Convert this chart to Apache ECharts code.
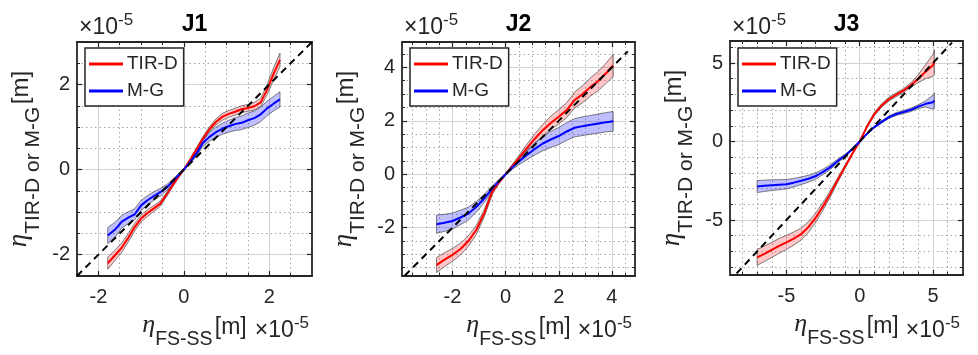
<!DOCTYPE html>
<html><head><meta charset="utf-8">
<script src="https://cdn.jsdelivr.net/npm/echarts@6/dist/echarts.min.js"></script>
<style>html,body{margin:0;padding:0;background:#fff}#c{width:978px;height:355px}</style>
</head><body><div id="c"></div>
<script>
// ---------------- data ----------------
const panelTitles = ['J1', 'J2', 'J3'];
const seriesNames = ['TIR-D', 'M-G'];

// J1
const x1 = [-1.78,-1.6,-1.45,-1.3,-1.15,-1.0,-0.85,-0.7,-0.55,-0.4,-0.25,-0.1,0,0.15,0.3,0.45,0.6,0.75,0.9,1.05,1.2,1.35,1.5,1.65,1.8,1.95,2.1,2.25];
const tir1 = [-2.2,-2.0,-1.83,-1.6,-1.35,-1.15,-1.02,-0.91,-0.8,-0.58,-0.35,-0.13,0,0.23,0.48,0.73,0.95,1.12,1.24,1.31,1.36,1.42,1.45,1.49,1.58,1.88,2.25,2.58];
const tir1Spread = [0.14,0.12,0.11,0.1,0.09,0.08,0.08,0.07,0.06,0.05,0.04,0.03,0.02,0.03,0.04,0.05,0.06,0.07,0.08,0.08,0.08,0.08,0.08,0.09,0.1,0.12,0.14,0.16];
const mg1 = [-1.55,-1.4,-1.22,-1.13,-1.05,-0.84,-0.72,-0.62,-0.53,-0.42,-0.27,-0.1,0,0.18,0.38,0.63,0.77,0.88,0.96,1.02,1.07,1.1,1.16,1.21,1.3,1.44,1.55,1.65];
const mg1Spread = [0.19,0.17,0.15,0.14,0.13,0.12,0.11,0.1,0.09,0.07,0.05,0.03,0.02,0.04,0.06,0.08,0.1,0.12,0.13,0.14,0.15,0.16,0.17,0.17,0.17,0.17,0.17,0.18];
const diag1 = [-2.5, 3];
const xRange1 = [-2.5, 3], yRange1 = [-2.5, 3];
const xMajor1 = [-2, 0, 2], yMajor1 = [-2, 0, 2];
const xMinor1 = [-1.5,-1,-0.5,0.5,1,1.5,2.5], yMinor1 = [-1.5,-1,-0.5,0.5,1,1.5,2.5];

// J2
const x2 = [-2.6,-2.3,-2.0,-1.7,-1.4,-1.1,-0.8,-0.5,-0.25,0,0.25,0.5,0.8,1.1,1.4,1.7,2.0,2.3,2.6,2.9,3.2,3.5,3.8,4.05];
const tir2 = [-3.4,-3.2,-3.02,-2.8,-2.5,-2.08,-1.45,-0.65,-0.3,0,0.3,0.6,0.98,1.33,1.65,1.92,2.15,2.4,2.78,3.0,3.27,3.5,3.8,4.07];
const tir2Spread = [0.28,0.26,0.24,0.22,0.2,0.17,0.14,0.1,0.06,0.03,0.06,0.1,0.14,0.18,0.22,0.25,0.27,0.28,0.3,0.32,0.34,0.36,0.38,0.42];
const mg2 = [-1.87,-1.82,-1.75,-1.62,-1.47,-1.22,-0.9,-0.53,-0.26,0,0.25,0.48,0.72,0.95,1.15,1.3,1.43,1.6,1.74,1.8,1.85,1.9,1.95,1.98];
const mg2Spread = [0.34,0.32,0.3,0.27,0.24,0.2,0.15,0.1,0.06,0.03,0.07,0.12,0.18,0.23,0.27,0.3,0.32,0.33,0.34,0.35,0.35,0.36,0.36,0.37];
const diag2 = [-3.8, 4.6];
const xRange2 = [-3.9, 4.87], yRange2 = [-3.81, 4.95];
const xMajor2 = [-2, 0, 2, 4], yMajor2 = [-2, 0, 2, 4];
const xMinor2 = [-3.5,-3,-2.5,-1.5,-1,-0.5,0.5,1,1.5,2.5,3,3.5,4.5], yMinor2 = [-3.5,-3,-2.5,-1.5,-1,-0.5,0.5,1,1.5,2.5,3,3.5,4.5];

// J3
const x3 = [-7.0,-6.5,-6,-5.5,-5,-4.5,-4,-3.5,-3,-2.5,-2,-1.5,-1,-0.5,0,0.5,1,1.5,2,2.5,3,3.5,4,4.5,5,5.1];
const tir3 = [-7.38,-7.15,-6.9,-6.65,-6.42,-6.18,-5.9,-5.45,-4.85,-4.12,-3.32,-2.45,-1.6,-0.78,0,0.95,1.75,2.3,2.7,2.98,3.25,3.6,4.0,4.45,4.85,5.05];
const tir3Spread = [0.5,0.49,0.48,0.47,0.45,0.42,0.38,0.34,0.3,0.25,0.2,0.15,0.1,0.06,0.02,0.07,0.1,0.11,0.12,0.12,0.12,0.15,0.25,0.45,0.7,0.8];
const mg3 = [-2.87,-2.82,-2.78,-2.75,-2.72,-2.62,-2.5,-2.37,-2.2,-1.93,-1.63,-1.24,-0.9,-0.48,0,0.5,0.92,1.25,1.55,1.75,1.88,2.02,2.22,2.4,2.5,2.6];
const mg3Spread = [0.38,0.36,0.34,0.32,0.3,0.27,0.24,0.22,0.2,0.17,0.15,0.12,0.08,0.05,0.02,0.04,0.06,0.07,0.08,0.09,0.1,0.11,0.12,0.2,0.45,0.5];
const diag3 = [-8.4, 6.3];
const xRange3 = [-8.85, 7.05], yRange3 = [-8.5, 6.4];
const xMajor3 = [-5, 0, 5], yMajor3 = [-5, 0, 5];
const xMinor3 = [-8,-7,-6,-4,-3,-2,-1,1,2,3,4,6], yMinor3 = [-8,-7,-6,-4,-3,-2,-1,1,2,3,4,6];

const exponentText = '-5';

// ---------------- layout ----------------
const panels = [
  {x:x1, tir:tir1, tirS:tir1Spread, mg:mg1, mgS:mg1Spread, diag:diag1, xr:xRange1, yr:yRange1, xM:xMajor1, yM:yMajor1, xm:xMinor1, ym:yMinor1, grid:{left:77, top:42, width:235, height:234}},
  {x:x2, tir:tir2, tirS:tir2Spread, mg:mg2, mgS:mg2Spread, diag:diag2, xr:xRange2, yr:yRange2, xM:xMajor2, yM:yMajor2, xm:xMinor2, ym:yMinor2, grid:{left:402, top:42, width:233, height:234}},
  {x:x3, tir:tir3, tirS:tir3Spread, mg:mg3, mgS:mg3Spread, diag:diag3, xr:xRange3, yr:yRange3, xM:xMajor3, yM:yMajor3, xm:xMinor3, ym:yMinor3, grid:{left:730, top:41, width:233, height:234}}
];

const TXT = '#262626';
const FONT = 'Liberation Sans, Arial, sans-serif';
const SERIF = 'Liberation Serif, DejaVu Serif, serif';
const RED = '#ff0000', BLUE = '#0000ff';

const richX = {
  eta: {fontFamily: SERIF, fontStyle: 'italic', fontSize: 26, color: TXT},
  sub: {fontFamily: FONT, fontSize: 19.5, color: TXT, padding: [30, 0, 0, 0]},
  m: {fontFamily: FONT, fontSize: 23, color: TXT, padding: [6, 0, 0, 0]},
  sp: {fontSize: 8}
};
const richY = {
  eta: {fontFamily: SERIF, fontStyle: 'italic', fontSize: 27, color: TXT},
  sub: {fontFamily: FONT, fontSize: 21, color: TXT, padding: [30, 0, 0, 0]},
  m: {fontFamily: FONT, fontSize: 24, color: TXT, padding: [6, 0, 0, 0]},
  sp: {fontSize: 9}
};

const grids = [], xAxes = [], yAxes = [], series = [], legends = [], graphics = [];

function axisCommon(gi, range) {
  return {type: 'value', gridIndex: gi, min: range[0], max: range[1], scale: true};
}

panels.forEach((p, i) => {
  grids.push(Object.assign({containLabel: false}, p.grid));
  const axLine = {show: true, onZero: false, lineStyle: {color: TXT, width: 1.8}};
  const noLine = {show: false, onZero: false};
  xAxes.push(Object.assign(axisCommon(i, p.xr), {
    position: 'bottom', axisLine: axLine,
    axisTick: {show: true, inside: true, length: 5, customValues: p.xM, lineStyle: {color: TXT, width: 1.2}},
    axisLabel: {customValues: p.xM, fontSize: 20, fontFamily: FONT, color: TXT, margin: 11},
    splitLine: {show: true, lineStyle: {color: '#d2d2d2', width: 1, type: 'solid'}},
    name: '{eta|η}{sub|FS-SS}{sp| }{m|[m]}', nameLocation: 'middle', nameGap: 22,
    nameTextStyle: {rich: richX}
  }));
  xAxes.push(Object.assign(axisCommon(i, p.xr), {
    position: 'bottom', axisLine: noLine,
    axisTick: {show: true, inside: true, length: 3, customValues: p.xm, lineStyle: {color: TXT, width: 1}},
    axisLabel: {show: false},
    splitLine: {show: true, lineStyle: {color: '#a6a6a6', width: 1, type: [1.5, 3]}}
  }));
  xAxes.push(Object.assign(axisCommon(i, p.xr), {
    position: 'top', axisLine: axLine,
    axisTick: {show: true, inside: true, length: 5, customValues: p.xM, lineStyle: {color: TXT, width: 1.2}},
    axisLabel: {show: false}, splitLine: {show: false}
  }));
  xAxes.push(Object.assign(axisCommon(i, p.xr), {
    position: 'top', axisLine: noLine,
    axisTick: {show: true, inside: true, length: 3, customValues: p.xm, lineStyle: {color: TXT, width: 1}},
    axisLabel: {show: false}, splitLine: {show: false}
  }));
  yAxes.push(Object.assign(axisCommon(i, p.yr), {
    position: 'left', axisLine: axLine,
    axisTick: {show: true, inside: true, length: 5, customValues: p.yM, lineStyle: {color: TXT, width: 1.2}},
    axisLabel: {customValues: p.yM, fontSize: 20, fontFamily: FONT, color: TXT, margin: 7},
    splitLine: {show: true, lineStyle: {color: '#d2d2d2', width: 1, type: 'solid'}},
    name: '{eta|η}{sub|TIR-D or M-G}{sp| }{m|[m]}', nameLocation: 'middle', nameGap: 33, nameRotate: 90,
    nameTextStyle: {rich: richY}
  }));
  yAxes.push(Object.assign(axisCommon(i, p.yr), {
    position: 'left', axisLine: noLine,
    axisTick: {show: true, inside: true, length: 3, customValues: p.ym, lineStyle: {color: TXT, width: 1}},
    axisLabel: {show: false},
    splitLine: {show: true, lineStyle: {color: '#a6a6a6', width: 1, type: [1.5, 3]}}
  }));
  yAxes.push(Object.assign(axisCommon(i, p.yr), {
    position: 'right', axisLine: axLine,
    axisTick: {show: true, inside: true, length: 5, customValues: p.yM, lineStyle: {color: TXT, width: 1.2}},
    axisLabel: {show: false}, splitLine: {show: false}
  }));
  yAxes.push(Object.assign(axisCommon(i, p.yr), {
    position: 'right', axisLine: noLine,
    axisTick: {show: true, inside: true, length: 3, customValues: p.ym, lineStyle: {color: TXT, width: 1}},
    axisLabel: {show: false}, splitLine: {show: false}
  }));

  const xi = i * 4, yi = i * 4;
  function band(ys, spread, fill) {
    return {
      type: 'custom', xAxisIndex: xi, yAxisIndex: yi, silent: true, z: 2,
      data: [[p.x[0], ys[0]]],
      renderItem: function (params, api) {
        const up = p.x.map((x, k) => api.coord([x, ys[k] + spread[k]]));
        const lo = p.x.map((x, k) => api.coord([x, ys[k] - spread[k]]));
        const poly = up.concat(lo.slice().reverse());
        return {type: 'polygon', shape: {points: poly},
          style: {fill: fill, stroke: '#4a4a4a', lineWidth: 0.7}};
      }
    };
  }
  series.push(band(p.tir, p.tirS, 'rgba(255,0,0,0.22)'));
  series.push(band(p.mg, p.mgS, 'rgba(0,0,255,0.25)'));
  series.push({type: 'line', name: seriesNames[0], xAxisIndex: xi, yAxisIndex: yi, z: 3,
    data: p.x.map((x, k) => [x, p.tir[k]]), showSymbol: false, symbol: 'none', smooth: false,
    color: RED, lineStyle: {color: RED, width: 2}});
  series.push({type: 'line', name: seriesNames[1], xAxisIndex: xi, yAxisIndex: yi, z: 3,
    data: p.x.map((x, k) => [x, p.mg[k]]), showSymbol: false, symbol: 'none', smooth: false,
    color: BLUE, lineStyle: {color: BLUE, width: 2}});
  series.push({type: 'line', name: 'diag', xAxisIndex: xi, yAxisIndex: yi, z: 4,
    data: [[p.diag[0], p.diag[0]], [p.diag[1], p.diag[1]]], showSymbol: false, symbol: 'none',
    color: '#000', lineStyle: {color: '#000', width: 2, type: [7, 5]}});

  legends.push({
    data: seriesNames, orient: 'vertical', left: p.grid.left + 8, top: 48,
    icon: 'rect', itemWidth: 34, itemHeight: 3, itemGap: 7,
    padding: [6, 6, 5, 4], borderColor: TXT, borderWidth: 1.5, borderRadius: 0,
    backgroundColor: '#fff', z: 10, selectedMode: false,
    textStyle: {fontSize: 19, fontFamily: FONT, color: TXT, lineHeight: 20, padding: [0,0,0,-1]}
  });

  const cx = p.grid.left + p.grid.width / 2;
  const expRich = {a: {fontSize: 23, fontFamily: FONT, fill: TXT}, b: {fontSize: 17, fontFamily: FONT, fill: TXT, padding: [0, 0, 15, 0]}};
  graphics.push({type: 'text', x: cx, y: 25, z: 20,
    style: {text: panelTitles[i], font: 'bold 23px ' + FONT, fill: '#000', align: 'center', verticalAlign: 'middle'}});
  graphics.push({type: 'text', x: p.grid.left + 2, y: 28, z: 20,
    style: {text: '{a|×10}{b|' + exponentText + '}', align: 'left', verticalAlign: 'middle', rich: expRich}});
  graphics.push({type: 'text', x: p.grid.left + p.grid.width - 3, y: 331, z: 20,
    style: {text: '{a|×10}{b|' + exponentText + '}', align: 'right', verticalAlign: 'middle', rich: expRich}});
});

const chart = echarts.init(document.getElementById('c'), null, {renderer: 'canvas'});
chart.setOption({
  animation: false,
  backgroundColor: '#fff',
  grid: grids, xAxis: xAxes, yAxis: yAxes, series: series, legend: legends, graphic: graphics
});
</script></body></html>
